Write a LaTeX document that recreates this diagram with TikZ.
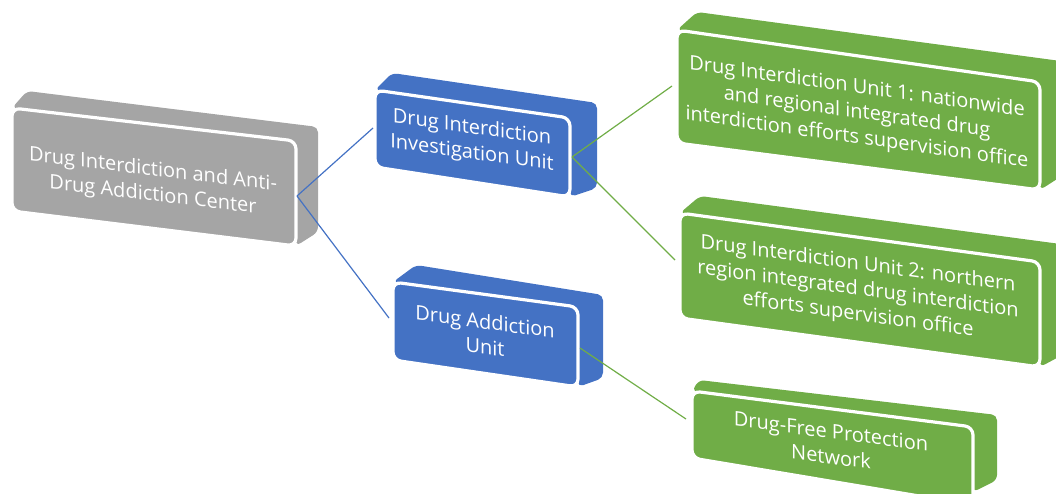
\documentclass[tikz,border=0pt]{standalone}
\usepackage{fontspec}
\setmainfont{Open Sans}
\definecolor{grayblk}{RGB}{165,165,165}
\definecolor{blueblk}{RGB}{68,114,196}
\definecolor{greenblk}{RGB}{112,173,71}
\begin{document}
\begin{tikzpicture}[x=0.75pt,y=0.75pt,yscale=-1,xscale=1,
  body/.style={rounded corners=4pt},
  face/.style={draw=white,line width=2.4pt,rounded corners=6pt},
  lbl/.style={text=white,align=center,font=\fontsize{15}{19}\selectfont},
  link/.style={line width=0.9pt}]
\useasboundingbox (0,0) rectangle (1056,493);

%Shape: Block [id:gray]
\fill [grayblk,body] (12,108) -- (27,91) -- (318,127) -- (318,232) -- (296,246) -- (296,141) -- cycle ;
\filldraw [fill=grayblk,face] (12,108) -- (296,141) -- (296,246) -- (12,211) -- cycle ;
%Shape: Block [id:blue1]
\fill [blueblk,body] (375,90) -- (392,73) -- (597,103) -- (597,188) -- (570,197) -- (570,118) -- cycle ;
\filldraw [fill=blueblk,face] (375,90) -- (570,118) -- (570,197) -- (375,167) -- cycle ;
%Shape: Block [id:blue2]
\fill [blueblk,body] (393,282) -- (416,265) -- (603,295) -- (603,378) -- (578,387) -- (578,307) -- cycle ;
\filldraw [fill=blueblk,face] (393,282) -- (578,307) -- (578,387) -- (393,360) -- cycle ;
%Shape: Block [id:green1]
\fill [greenblk,body] (677,30) -- (697,12) -- (1068,62) -- (1068,172) -- (1040,190) -- (1040,82) -- cycle ;
\filldraw [fill=greenblk,face] (677,30) -- (1040,82) -- (1040,190) -- (677,143) -- cycle ;
%Shape: Block [id:green2]
\fill [greenblk,body] (680,213) -- (700,196) -- (1068,245) -- (1068,352) -- (1040,367) -- (1040,262) -- cycle ;
\filldraw [fill=greenblk,face] (680,213) -- (1040,262) -- (1040,367) -- (680,318) -- cycle ;
%Shape: Block [id:green3]
\fill [greenblk,body] (692,391) -- (699,380) -- (997,415) -- (997,480) -- (973,492) -- (973,427) -- cycle ;
\filldraw [fill=greenblk,face] (692,391) -- (973,427) -- (973,505) -- (692,458) -- cycle ;

% Connector ends
\coordinate (gray-r) at (297,196) ;
\coordinate (blue1-l) at (373,128) ;
\coordinate (blue1-r) at (572,157) ;
\coordinate (blue2-l) at (389,318) ;
\coordinate (blue2-r) at (580,348) ;
\coordinate (green1-l) at (672,86) ;
\coordinate (green2-l) at (675,260) ;
\coordinate (green3-l) at (686,419) ;

% Connectors
\draw [blueblk,link] (gray-r) -- (blue1-l) ;
\draw [blueblk,link] (gray-r) -- (blue2-l) ;
\draw [greenblk,link] (blue1-r) -- (green1-l) ;
\draw [greenblk,link] (blue1-r) -- (green2-l) ;
\draw [greenblk,link] (blue2-r) -- (green3-l) ;

% Text Node
\draw (153,183) node (center) [lbl,yslant=-0.12] {Drug Interdiction and Anti-\\Drug Addiction Center};
% Text Node
\draw (472,141) node (invest) [lbl,yslant=-0.14] {Drug Interdiction\\Investigation Unit};
% Text Node
\draw (485,334) node (addict) [lbl,yslant=-0.135] {Drug Addiction\\Unit};
% Text Node
\draw (857,113) node (unit1) [lbl,yslant=-0.14] {Drug Interdiction Unit 1: nationwide\\and regional integrated drug\\interdiction efforts supervision office};
% Text Node
\draw (858,290) node (unit2) [lbl,yslant=-0.136] {Drug Interdiction Unit 2: northern\\region integrated drug interdiction\\efforts supervision office};
% Text Node
\draw (831,444) node (network) [lbl,yslant=-0.13] {Drug-Free Protection\\Network};
\end{tikzpicture}
\end{document}
